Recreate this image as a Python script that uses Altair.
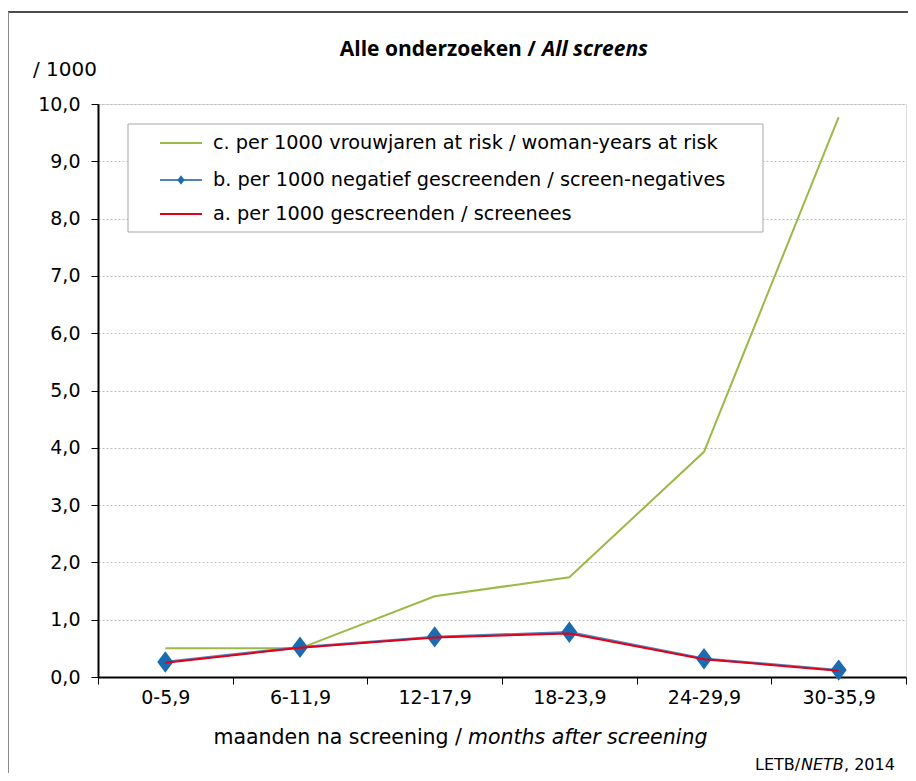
import altair as alt
import pandas as pd

# ---- data ----
categories = ["0-5,9", "6-11,9", "12-17,9", "18-23,9", "24-29,9", "30-35,9"]
series_c = [0.50, 0.50, 1.41, 1.74, 3.93, 9.77]   # per 1000 woman-years at risk
series_b = [0.26, 0.52, 0.70, 0.78, 0.32, 0.12]   # per 1000 screen-negatives
series_a = [0.25, 0.51, 0.69, 0.76, 0.31, 0.11]   # per 1000 screenees
series_names = ["c", "b", "a"]
legend_labels = [
    "c. per 1000 vrouwjaren at risk / woman-years at risk",
    "b. per 1000 negatief gescreenden / screen-negatives",
    "a. per 1000 gescreenden / screenees",
]
y_ticks = [0, 1, 2, 3, 4, 5, 6, 7, 8, 9, 10]

GREEN = "#9BB946"
BLUE_LINE = "#4F81BD"
BLUE_DOT = "#1A6BB0"
RED = "#E2001A"
FONT = "DejaVu Sans"
TFONT = "Open Sans"

rows = []
for name, vals in zip(series_names, [series_c, series_b, series_a]):
    for cat, v in zip(categories, vals):
        rows.append({"cat": cat, "series": name, "value": v})
df = pd.DataFrame(rows)

W, H = 808, 573

x_enc = alt.X(
    "cat:N",
    sort=categories,
    scale=alt.Scale(paddingInner=0, paddingOuter=0),
    axis=alt.Axis(
        title=None, tickBand="extent", grid=False, domainColor="black", domainWidth=2,
        tickColor="black", tickWidth=1, tickSize=7, labelFontSize=19, labelPadding=4,
        labelColor="black", labelAngle=0, labelFont=FONT,
    ),
)
y_enc = alt.Y(
    "value:Q",
    scale=alt.Scale(domain=[0, 10], nice=False),
    axis=alt.Axis(
        title=None, values=y_ticks, grid=True, gridDash=[2, 2], gridColor="#BDBDBD",
        gridWidth=1, domainColor="black", domainWidth=2, tickColor="black", tickSize=7,
        labelFontSize=19, labelPadding=11, labelColor="black", labelFont=FONT,
        labelExpr="replace(format(datum.value, '.1f'), '.', ',')",
    ),
)

base = alt.Chart(df)
green_line = base.transform_filter(alt.datum.series == "c").mark_line(
    color=GREEN, strokeWidth=2).encode(x=x_enc, y=y_enc)
blue_line = base.transform_filter(alt.datum.series == "b").mark_line(
    color=BLUE_LINE, strokeWidth=2.5).encode(x=x_enc, y=y_enc)
diamond = "M0,-1.2L0.9,0L0,1.2L-0.9,0Z"
blue_pts = base.transform_filter(alt.datum.series == "b").mark_point(
    shape=diamond, filled=True, color=BLUE_DOT, size=320, opacity=1).encode(x=x_enc, y=y_enc)
red_line = base.transform_filter(alt.datum.series == "a").mark_line(
    color=RED, strokeWidth=2).encode(x=x_enc, y=y_enc)

one = pd.DataFrame({"k": [0]})

def text(t, x, y, size=17, weight="normal", style="normal", align="left", color="black", font=FONT):
    return alt.Chart(one).mark_text(
        text=t, font=font, fontSize=size, fontWeight=weight, fontStyle=style,
        align=align, baseline="middle", color=color,
    ).encode(x=alt.value(x), y=alt.value(y))

# ---- frame lines ----
frame_top = alt.Chart(one).mark_rule(color="#4D4D4D", strokeWidth=2).encode(
    x=alt.value(-90), x2=alt.value(W + 2), y=alt.value(-92))
frame_left = alt.Chart(one).mark_rule(color="#8A8A8A", strokeWidth=1).encode(
    x=alt.value(-89.5), y=alt.value(-92), y2=alt.value(H + 100))

# ---- legend (manual) ----
leg_box = alt.Chart(one).mark_rect(fill="white", stroke="#A6A6A6", strokeWidth=1).encode(
    x=alt.value(30), x2=alt.value(665), y=alt.value(20), y2=alt.value(128))
row_y = [39, 76, 110]
leg_colors = [GREEN, BLUE_LINE, RED]
leg_layers = [leg_box]
for lab, col, yy in zip(legend_labels, leg_colors, row_y):
    leg_layers.append(alt.Chart(one).mark_rule(color=col, strokeWidth=2).encode(
        x=alt.value(62), x2=alt.value(104), y=alt.value(yy)))
    leg_layers.append(text(lab, 115, yy, size=19.3))
leg_layers.insert(4, alt.Chart(one).mark_point(
    shape=diamond, filled=True, color=BLUE_DOT, size=64, opacity=1).encode(
    x=alt.value(83), y=alt.value(row_y[1])))

# ---- titles / annotations ----
title_a = text("Alle onderzoeken /", 438, -54, size=21, weight="bold", align="right", font=TFONT)
title_b = text("All screens", 444, -54, size=21, weight="bold", style="italic", font=TFONT)
unit = text("/ 1000", -65, -34, size=20)
xt_a = text("maanden na screening /", 364, 634, size=20.5, align="right")
xt_b = text("months after screening", 370, 634, size=20.5, style="italic")
src_a = text("LETB/", 657, 661, size=16)
src_b = text("NETB", 703, 661, size=16, style="italic")
src_c = text(", 2014", 746, 661, size=16)

chart = alt.layer(
    frame_top, frame_left, green_line, blue_line, blue_pts, red_line,
    *leg_layers, title_a, title_b, unit, xt_a, xt_b, src_a, src_b, src_c,
).properties(
    width=W, height=H,
    autosize=alt.AutoSizeParams(type="none"),
    padding={"left": 90, "top": 96, "right": 2, "bottom": 96},
).configure_view(stroke=None).configure(font=FONT)

chart.save("out.html", embed_options={"renderer": "svg", "actions": False})
